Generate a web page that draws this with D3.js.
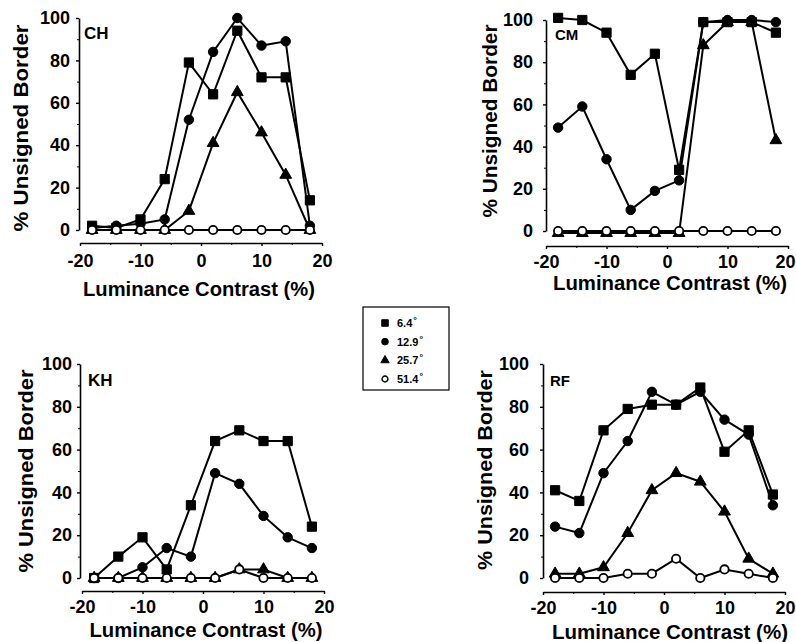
<!DOCTYPE html>
<html>
<head>
<meta charset="utf-8">
<script src="https://cdn.jsdelivr.net/npm/d3@7"></script>
<style>
  body { margin: 0; background: #fff; }
  svg { display: block; }
  text { font-family: "Liberation Sans Narrow", "Liberation Sans", Arial, sans-serif; font-weight: bold; fill: #000; }
</style>
</head>
<body>
<svg id="chart" width="796" height="642"></svg>
<script>
// contrast levels (%) and axis ticks
const contrast = [-18, -14, -10, -6, -2, 2, 6, 10, 14, 18];
const xTicks = [-20, -10, 0, 10, 20];
const xMinor = [-15, -5, 5, 15];
const yTicks = [0, 20, 40, 60, 80, 100];
const yMinor = [10, 30, 50, 70, 90];
const sizes = ["6.4", "12.9", "25.7", "51.4"];

// % unsigned border, one array per subject and size
const ch64 = [2, 1, 5, 24, 79, 64, 94, 72, 72, 14];
const ch129 = [1, 2, 3, 5, 52, 84, 100, 87, 89, 2];
const ch257 = [0, 0, 0, 0, 9, 41, 65, 46, 26, 0];
const ch514 = [0, 0, 0, 0, 0, 0, 0, 0, 0, 0];

const cm64 = [101, 100, 94, 74, 84, 29, 99, 99, 99, 94];
const cm129 = [49, 59, 34, 10, 19, 24, 99, 100, 100, 99];
const cm257 = [-1, -1, -1, -1, -1, -1, 88, 99, 99, 43];
const cm514 = [0, 0, 0, 0, 0, 0, 0, 0, 0, 0];

const kh64 = [0, 10, 19, 4, 34, 64, 69, 64, 64, 24];
const kh129 = [0, 0, 5, 14, 10, 49, 44, 29, 19, 14];
const kh257 = [0, 0, 0, 0, 0, 0, 4, 4, 0, 0];
const kh514 = [0, 0, 0, 0, 0, 0, 4, 0, 0, 0];

const rf64 = [41, 36, 69, 79, 81, 81, 89, 59, 69, 39];
const rf129 = [24, 21, 49, 64, 87, 81, 87, 74, 67, 34];
const rf257 = [2, 2, 5, 21, 41, 49, 45, 31, 9, 2];
const rf514 = [0, 0, 0, 2, 2, 9, 0, 4, 2, 0];

// panel layout (pixel positions only)
const panels = [
  { name: "CH", series: [ch64, ch129, ch257, ch514],
    x0: 80, x1: 322, y0: 230, y100: 18, axisX: 79, axisY: 243, tickLabY: 267, yLabGap: 9,
    xtX: 199, xtY: 296, xtLen: 232, ytX: 28, ytY: 128, ytLen: 207, labX: 84, labY: 39, labSize: 17 },
  { name: "CM", series: [cm64, cm129, cm257, cm514],
    x0: 546, x1: 788, y0: 231, y100: 20, axisX: 546, axisY: 246, tickLabY: 268, yLabGap: 13,
    xtX: 670, xtY: 290, xtLen: 234, ytX: 497, ytY: 121, ytLen: 193, labX: 555, labY: 40, labSize: 15 },
  { name: "KH", series: [kh64, kh129, kh257, kh514],
    x0: 82, x1: 324, y0: 578, y100: 364, axisX: 80, axisY: 591, tickLabY: 613, yLabGap: 8,
    xtX: 206, xtY: 637, xtLen: 233, ytX: 33, ytY: 471, ytLen: 203, labX: 88, labY: 386, labSize: 17 },
  { name: "RF", series: [rf64, rf129, rf257, rf514],
    x0: 543, x1: 785, y0: 578, y100: 364, axisX: 543, axisY: 592, tickLabY: 614, yLabGap: 14,
    xtX: 670, xtY: 639, xtLen: 236, ytX: 492, ytY: 470, ytLen: 200, labX: 550, labY: 386, labSize: 15 }
];

// marker styles per size
const markers = [
  { type: d3.symbolSquare, area: 85, fill: "#000" },
  { type: d3.symbolCircle, area: 70, fill: "#000" },
  { type: d3.symbolTriangle, area: 60, fill: "#000" },
  { type: d3.symbolCircle, area: 55, fill: "#fff" }
];

const W = 796;
const svg = d3.select("#chart");

const styleTickText = (sel) => {
  sel.style("font-family", "'Liberation Sans Narrow', 'Liberation Sans', Arial, sans-serif")
    .style("font-weight", "bold")
    .style("font-size", "18px")
    .attr("fill", "#000");
};

const drawPanel = (p) => {
  const x = d3.scaleLinear().domain([-20, 20]).range([p.x0, p.x1]);
  const y = d3.scaleLinear().domain([0, 100]).range([p.y0, p.y100]);
  const g = svg.append("g");

  // y axis
  const yAxis = g.append("g")
    .attr("transform", `translate(${p.axisX},0)`)
    .call(d3.axisLeft(y).tickValues(yTicks).tickSize(3).tickSizeOuter(0)
      .tickPadding(p.yLabGap - 3).tickFormat(d => String(d)));
  yAxis.select(".domain").attr("stroke-width", 1.6);
  yAxis.selectAll(".tick line").attr("stroke-width", 1.4);
  yAxis.selectAll("text").call(styleTickText);
  g.append("g")
    .attr("transform", `translate(${p.axisX},0)`)
    .call(d3.axisLeft(y).tickValues(yMinor).tickSize(2).tickFormat(""))
    .call(s => s.select(".domain").remove());

  // x axis
  const xAxis = g.append("g")
    .attr("transform", `translate(0,${p.axisY})`)
    .call(d3.axisBottom(x).tickValues(xTicks).tickSize(3).tickSizeOuter(0).tickFormat(d => String(d)));
  xAxis.select(".domain").attr("stroke-width", 1.6);
  xAxis.selectAll(".tick line").attr("stroke-width", 1.4);
  xAxis.selectAll("text")
    .attr("y", p.tickLabY - p.axisY)
    .attr("dy", null)
    .call(styleTickText);
  // keep the last label inside the page
  xAxis.selectAll("text").each(function (d) {
    const right = x(d) + this.getComputedTextLength() / 2;
    if (right > W - 1) d3.select(this).attr("x", W - 1 - right);
  });
  g.append("g")
    .attr("transform", `translate(0,${p.axisY})`)
    .call(d3.axisBottom(x).tickValues(xMinor).tickSize(2).tickFormat(""))
    .call(s => s.select(".domain").remove());

  // titles
  g.append("text")
    .attr("x", p.xtX).attr("y", p.xtY)
    .attr("text-anchor", "middle")
    .attr("textLength", p.xtLen).attr("lengthAdjust", "spacingAndGlyphs")
    .style("font-family", "'Liberation Sans', Arial, sans-serif")
    .style("font-size", "20px")
    .text("Luminance Contrast (%)");

  g.append("text")
    .attr("transform", `translate(${p.ytX},${p.ytY}) rotate(-90)`)
    .attr("text-anchor", "middle")
    .attr("textLength", p.ytLen).attr("lengthAdjust", "spacingAndGlyphs")
    .style("font-family", "'Liberation Sans', Arial, sans-serif")
    .style("font-size", "21px")
    .text("% Unsigned Border");

  g.append("text")
    .attr("x", p.labX).attr("y", p.labY)
    .style("font-size", p.labSize + "px")
    .text(p.name);

  // series
  const line = d3.line().x((d, i) => x(contrast[i])).y(d => y(d));
  p.series.forEach((vals, k) => {
    g.append("path")
      .datum(vals)
      .attr("d", line)
      .attr("fill", "none")
      .attr("stroke", "#000")
      .attr("stroke-width", 2);

    const m = markers[k];
    g.selectAll(null)
      .data(vals)
      .enter()
      .append("path")
      .attr("transform", (d, i) => `translate(${x(contrast[i])},${y(d)})`)
      .attr("d", d3.symbol().type(m.type).size(m.area))
      .attr("fill", m.fill)
      .attr("stroke", "#000")
      .attr("stroke-width", k === 3 ? 1.8 : 1);
  });
};

panels.forEach(drawPanel);

// legend
const legend = svg.append("g");
legend.append("rect")
  .attr("x", 363).attr("y", 307)
  .attr("width", 86).attr("height", 83)
  .attr("fill", "none")
  .attr("stroke", "#000")
  .attr("stroke-width", 1.2);

const rowY = d3.scalePoint().domain(sizes).range([323, 379]);
sizes.forEach((s, k) => {
  const m = markers[k];
  legend.append("path")
    .attr("transform", `translate(385,${rowY(s)})`)
    .attr("d", d3.symbol().type(m.type).size(m.area * 0.5))
    .attr("fill", m.fill)
    .attr("stroke", "#000")
    .attr("stroke-width", k === 3 ? 1.4 : 1);
  const t = legend.append("text")
    .attr("x", 397).attr("y", rowY(s) + 4)
    .style("font-size", "11px");
  t.append("tspan").text(s);
  t.append("tspan")
    .attr("dx", 1).attr("dy", -4)
    .style("font-size", "9px")
    .text("°");
});
</script>
</body>
</html>
